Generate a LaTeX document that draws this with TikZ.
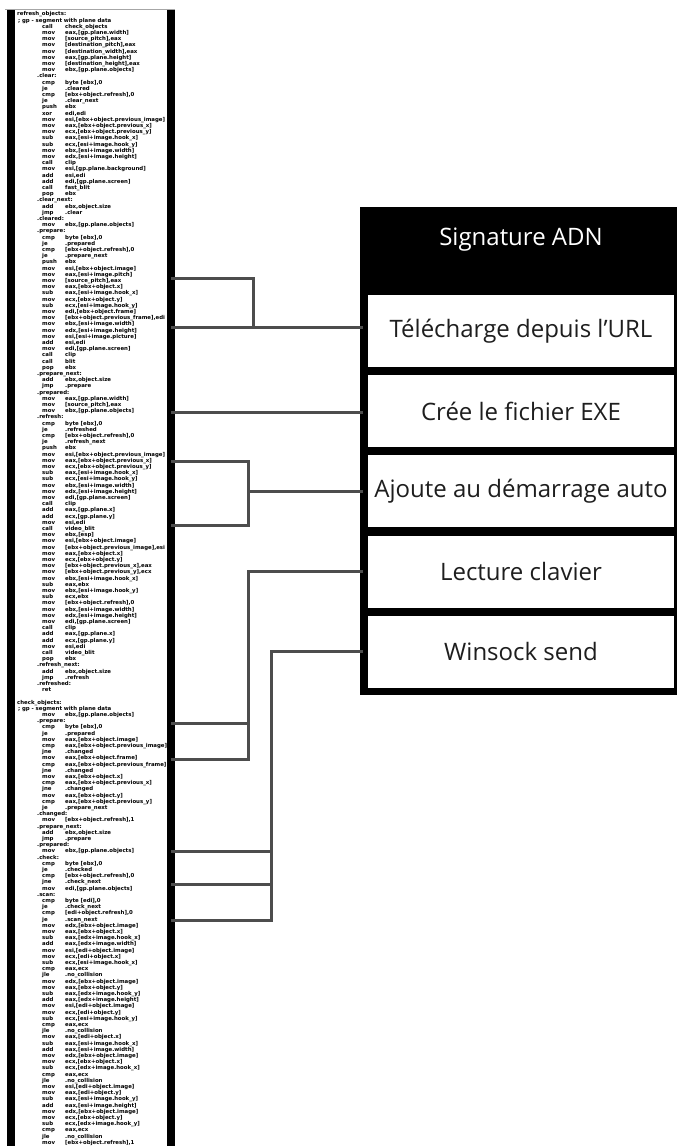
\documentclass[tikz,border=0pt]{standalone}
\usepackage{fontspec}
\setmainfont{Open Sans}
\newfontfamily\codef{DejaVu Sans}
\definecolor{linkgray}{RGB}{77,77,77}
\definecolor{textdark}{RGB}{30,30,30}
\newcommand\cI[2]{\hspace*{25pt}\makebox[23pt][l]{#1}#2\par}
\newcommand\cL[1]{#1\par}
\newcommand\cLL[1]{\hspace*{20pt}#1\par}
\begin{document}
\begin{tikzpicture}[x=1pt,y=1pt,
  link/.style={draw=linkgray, line width=3pt},
  rowbox/.style={fill=white, minimum width=306pt, minimum height=72pt, inner sep=0pt, text=textdark, font=\fontsize{24}{28}\selectfont},
  codetext/.style={anchor=north west, inner sep=0pt, text width=200pt, font=\codef\bfseries\fontsize{5.4}{6.2}\selectfont}]
\useasboundingbox (0,0) rectangle (677,-1146);
\fill[white] (0,0) rectangle (677,-1146);
% code panel
\draw[gray!70, line width=0.8pt] (5,-9) -- (175,-9);
\fill[black] (7,-9.5) rectangle (15,-1146);
\fill[black] (167,-9.5) rectangle (175,-1146);
\node[codetext] (code) at (17,-11.5) {\raggedright\parindent=0pt\parskip=0pt
\cL{refresh\_objects:}
\cL{\,; gp - segment with plane data}
\cI{call}{check\_objects}
\cI{mov}{eax,[gp.plane.width]}
\cI{mov}{[source\_pitch],eax}
\cI{mov}{[destination\_pitch],eax}
\cI{mov}{[destination\_width],eax}
\cI{mov}{eax,[gp.plane.height]}
\cI{mov}{[destination\_height],eax}
\cI{mov}{ebx,[gp.plane.objects]}
\cLL{.clear:}
\cI{cmp}{byte [ebx],0}
\cI{je}{.cleared}
\cI{cmp}{[ebx+object.refresh],0}
\cI{je}{.clear\_next}
\cI{push}{ebx}
\cI{xor}{edi,edi}
\cI{mov}{esi,[ebx+object.previous\_image]}
\cI{mov}{eax,[ebx+object.previous\_x]}
\cI{mov}{ecx,[ebx+object.previous\_y]}
\cI{sub}{eax,[esi+image.hook\_x]}
\cI{sub}{ecx,[esi+image.hook\_y]}
\cI{mov}{ebx,[esi+image.width]}
\cI{mov}{edx,[esi+image.height]}
\cI{call}{clip}
\cI{mov}{esi,[gp.plane.background]}
\cI{add}{esi,edi}
\cI{add}{edi,[gp.plane.screen]}
\cI{call}{fast\_blit}
\cI{pop}{ebx}
\cLL{.clear\_next:}
\cI{add}{ebx,object.size}
\cI{jmp}{.clear}
\cLL{.cleared:}
\cI{mov}{ebx,[gp.plane.objects]}
\cLL{.prepare:}
\cI{cmp}{byte [ebx],0}
\cI{je}{.prepared}
\cI{cmp}{[ebx+object.refresh],0}
\cI{je}{.prepare\_next}
\cI{push}{ebx}
\cI{mov}{esi,[ebx+object.image]}
\cI{mov}{eax,[esi+image.pitch]}
\cI{mov}{[source\_pitch],eax}
\cI{mov}{eax,[ebx+object.x]}
\cI{sub}{eax,[esi+image.hook\_x]}
\cI{mov}{ecx,[ebx+object.y]}
\cI{sub}{ecx,[esi+image.hook\_y]}
\cI{mov}{edi,[ebx+object.frame]}
\cI{mov}{[ebx+object.previous\_frame],edi}
\cI{mov}{ebx,[esi+image.width]}
\cI{mov}{edx,[esi+image.height]}
\cI{mov}{esi,[esi+image.picture]}
\cI{add}{esi,edi}
\cI{mov}{edi,[gp.plane.screen]}
\cI{call}{clip}
\cI{call}{blit}
\cI{pop}{ebx}
\cLL{.prepare\_next:}
\cI{add}{ebx,object.size}
\cI{jmp}{.prepare}
\cLL{.prepared:}
\cI{mov}{eax,[gp.plane.width]}
\cI{mov}{[source\_pitch],eax}
\cI{mov}{ebx,[gp.plane.objects]}
\cLL{.refresh:}
\cI{cmp}{byte [ebx],0}
\cI{je}{.refreshed}
\cI{cmp}{[ebx+object.refresh],0}
\cI{je}{.refresh\_next}
\cI{push}{ebx}
\cI{mov}{esi,[ebx+object.previous\_image]}
\cI{mov}{eax,[ebx+object.previous\_x]}
\cI{mov}{ecx,[ebx+object.previous\_y]}
\cI{sub}{eax,[esi+image.hook\_x]}
\cI{sub}{ecx,[esi+image.hook\_y]}
\cI{mov}{ebx,[esi+image.width]}
\cI{mov}{edx,[esi+image.height]}
\cI{mov}{edi,[gp.plane.screen]}
\cI{call}{clip}
\cI{add}{eax,[gp.plane.x]}
\cI{add}{ecx,[gp.plane.y]}
\cI{mov}{esi,edi}
\cI{call}{video\_blit}
\cI{mov}{ebx,[esp]}
\cI{mov}{esi,[ebx+object.image]}
\cI{mov}{[ebx+object.previous\_image],esi}
\cI{mov}{eax,[ebx+object.x]}
\cI{mov}{ecx,[ebx+object.y]}
\cI{mov}{[ebx+object.previous\_x],eax}
\cI{mov}{[ebx+object.previous\_y],ecx}
\cI{mov}{ebx,[esi+image.hook\_x]}
\cI{sub}{eax,ebx}
\cI{mov}{ebx,[esi+image.hook\_y]}
\cI{sub}{ecx,ebx}
\cI{mov}{[ebx+object.refresh],0}
\cI{mov}{ebx,[esi+image.width]}
\cI{mov}{edx,[esi+image.height]}
\cI{mov}{edi,[gp.plane.screen]}
\cI{call}{clip}
\cI{add}{eax,[gp.plane.x]}
\cI{add}{ecx,[gp.plane.y]}
\cI{mov}{esi,edi}
\cI{call}{video\_blit}
\cI{pop}{ebx}
\cLL{.refresh\_next:}
\cI{add}{ebx,object.size}
\cI{jmp}{.refresh}
\cLL{.refreshed:}
\cI{ret}{}
\mbox{}\par
\cL{check\_objects:}
\cL{\,; gp - segment with plane data}
\cI{mov}{ebx,[gp.plane.objects]}
\cLL{.prepare:}
\cI{cmp}{byte [ebx],0}
\cI{je}{.prepared}
\cI{mov}{eax,[ebx+object.image]}
\cI{cmp}{eax,[ebx+object.previous\_image]}
\cI{jne}{.changed}
\cI{mov}{eax,[ebx+object.frame]}
\cI{cmp}{eax,[ebx+object.previous\_frame]}
\cI{jne}{.changed}
\cI{mov}{eax,[ebx+object.x]}
\cI{cmp}{eax,[ebx+object.previous\_x]}
\cI{jne}{.changed}
\cI{mov}{eax,[ebx+object.y]}
\cI{cmp}{eax,[ebx+object.previous\_y]}
\cI{je}{.prepare\_next}
\cLL{.changed:}
\cI{mov}{[ebx+object.refresh],1}
\cLL{.prepare\_next:}
\cI{add}{ebx,object.size}
\cI{jmp}{.prepare}
\cLL{.prepared:}
\cI{mov}{ebx,[gp.plane.objects]}
\cLL{.check:}
\cI{cmp}{byte [ebx],0}
\cI{je}{.checked}
\cI{cmp}{[ebx+object.refresh],0}
\cI{jne}{.check\_next}
\cI{mov}{edi,[gp.plane.objects]}
\cLL{.scan:}
\cI{cmp}{byte [edi],0}
\cI{je}{.check\_next}
\cI{cmp}{[edi+object.refresh],0}
\cI{je}{.scan\_next}
\cI{mov}{edx,[ebx+object.image]}
\cI{mov}{eax,[ebx+object.x]}
\cI{sub}{eax,[edx+image.hook\_x]}
\cI{add}{eax,[edx+image.width]}
\cI{mov}{esi,[edi+object.image]}
\cI{mov}{ecx,[edi+object.x]}
\cI{sub}{ecx,[esi+image.hook\_x]}
\cI{cmp}{eax,ecx}
\cI{jle}{.no\_collision}
\cI{mov}{edx,[ebx+object.image]}
\cI{mov}{eax,[ebx+object.y]}
\cI{sub}{eax,[edx+image.hook\_y]}
\cI{add}{eax,[edx+image.height]}
\cI{mov}{esi,[edi+object.image]}
\cI{mov}{ecx,[edi+object.y]}
\cI{sub}{ecx,[esi+image.hook\_y]}
\cI{cmp}{eax,ecx}
\cI{jle}{.no\_collision}
\cI{mov}{eax,[edi+object.x]}
\cI{sub}{eax,[esi+image.hook\_x]}
\cI{add}{eax,[esi+image.width]}
\cI{mov}{edx,[ebx+object.image]}
\cI{mov}{ecx,[ebx+object.x]}
\cI{sub}{ecx,[edx+image.hook\_x]}
\cI{cmp}{eax,ecx}
\cI{jle}{.no\_collision}
\cI{mov}{esi,[edi+object.image]}
\cI{mov}{eax,[edi+object.y]}
\cI{sub}{eax,[esi+image.hook\_y]}
\cI{add}{eax,[esi+image.height]}
\cI{mov}{edx,[ebx+object.image]}
\cI{mov}{ecx,[ebx+object.y]}
\cI{sub}{ecx,[edx+image.hook\_y]}
\cI{cmp}{eax,ecx}
\cI{jle}{.no\_collision}
\cI{mov}{[ebx+object.refresh],1}
};
% table
\fill[black] (360,-207) rectangle (677,-695);
\node[text=white, font=\fontsize{24}{28}\selectfont] (hd) at (521,-240) {Signature ADN};
\node[rowbox] (r1) at (521,-331) {Télécharge depuis l’URL};
\node[rowbox] (r2) at (521,-411) {Crée le fichier EXE};
\node[rowbox] (r3) at (521,-491) {Ajoute au démarrage auto};
\node[rowbox] (r4) at (521,-571.5) {Lecture clavier};
\node[rowbox] (r5) at (521,-651.5) {Winsock send};
% taps on the code panel
\coordinate (t1) at (171,-278);
\coordinate (t2) at (171,-327);
\coordinate (t3) at (171,-412);
\coordinate (t4) at (171,-461);
\coordinate (t5) at (171,-525);
\coordinate (t6) at (171,-723);
\coordinate (t7) at (171,-759);
\coordinate (t8) at (171,-851);
\coordinate (t9) at (171,-884);
\coordinate (t10) at (171,-920);
\coordinate (j1) at (253,-327);
\coordinate (j3) at (248,-491);
\coordinate (j4) at (248,-759);
\coordinate (j5) at (271,-920);
% connectors
\draw[link] (t1) -| (j1) -- (t2);
\draw[link] (j1) -- ([xshift=-5pt]r1.west |- j1);
\draw[link] (t3) -- ([xshift=-5pt]r2.west |- t3);
\draw[link] (t4) -| (j3) |- (t5);
\draw[link] (j3) -- ([xshift=-5pt]r3.west);
\draw[link] ([xshift=-5pt]r4.west) -| (j4) -- (t7);
\draw[link] (t6) -- (t6 -| j4);
\draw[link] ([xshift=-5pt]r5.west) -| (j5) -- (t10);
\draw[link] (t8) -- (t8 -| j5);
\draw[link] (t9) -- (t9 -| j5);
\end{tikzpicture}
\end{document}
